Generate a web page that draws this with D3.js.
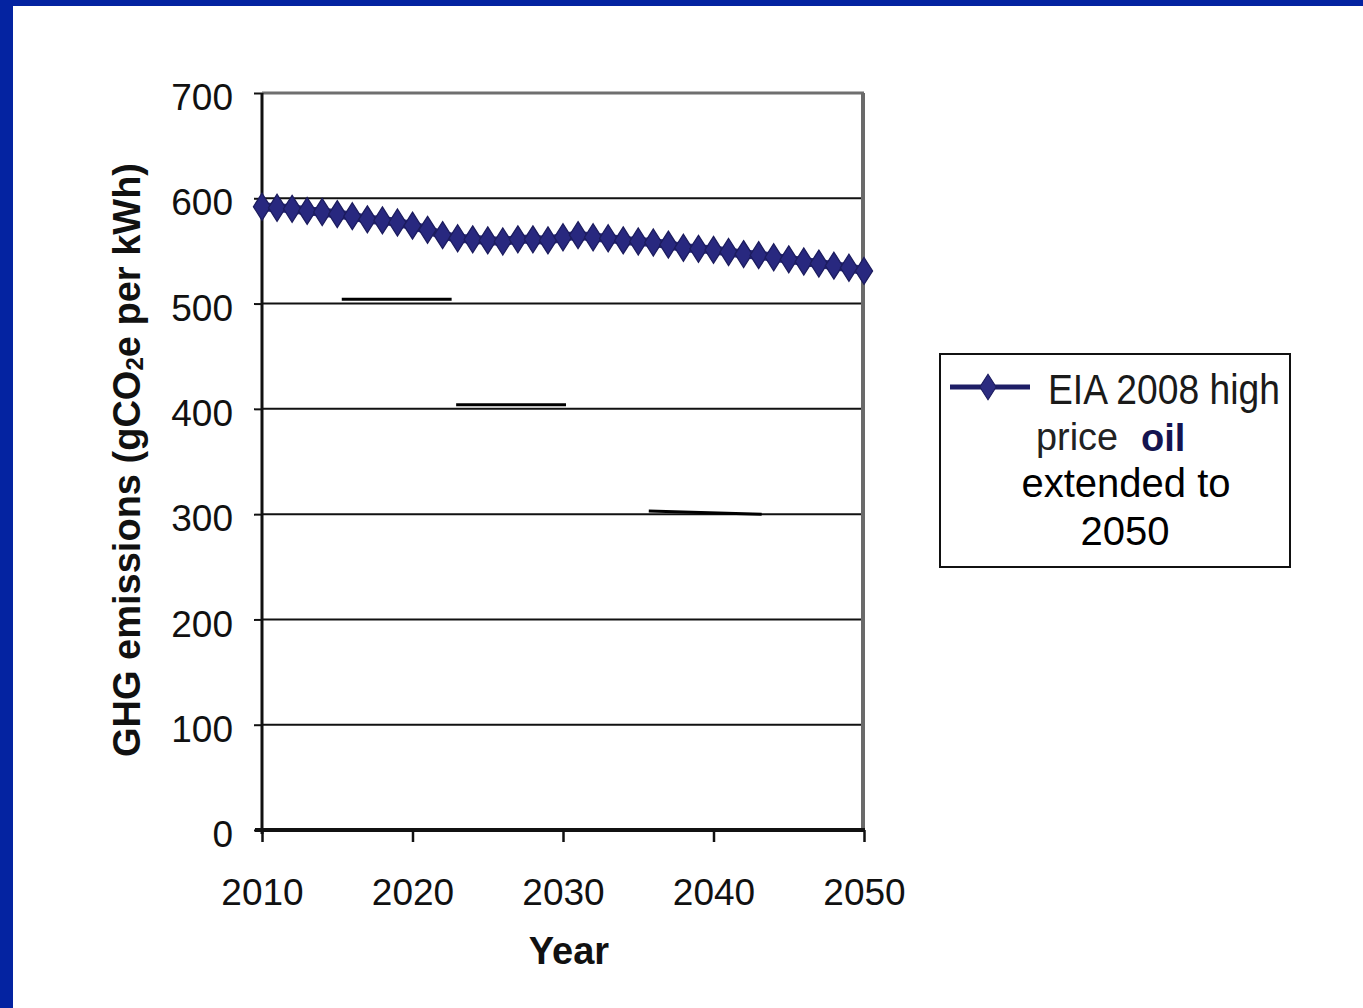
<!DOCTYPE html>
<html>
<head>
<meta charset="utf-8">
<script src="https://cdn.jsdelivr.net/npm/d3@7"></script>
<style>
  html, body { margin: 0; padding: 0; background: #ffffff; }
  svg { display: block; }
  text { font-family: "Liberation Sans", Arial, sans-serif; }
</style>
</head>
<body>
<script>
// Emissions intensity, EIA 2008 high-price-oil case extended to 2050
const years = d3.range(2010, 2051);
const emissions = [
  592, 591, 590, 588, 587, 585, 583, 580, 579, 577,
  574, 570, 565, 562, 561, 560, 559, 561, 561, 560,
  563, 565, 563, 562, 560, 559, 558, 556, 553, 552,
  551, 549, 547, 546, 544, 542, 540, 538, 536, 534,
  531
];
const yTicks = [0, 100, 200, 300, 400, 500, 600, 700];
const xTicks = [2010, 2020, 2030, 2040, 2050];
// short level marks left on the grid
const levelMarks = [
  { from: 2015.3, to: 2022.6, start: 504, end: 504 },
  { from: 2022.9, to: 2030.2, start: 404, end: 404 },
  { from: 2035.7, to: 2043.2, start: 303, end: 300 }
];
const seriesName = ["EIA 2008 high", "price", "oil", "extended to", "2050"];

const W = 1363, H = 1008;
const svg = d3.select("body").append("svg").attr("width", W).attr("height", H);

// slide frame
svg.append("rect").attr("x", 0).attr("y", 0).attr("width", W).attr("height", H).attr("fill", "#ffffff");
svg.append("rect").attr("x", 0).attr("y", 0).attr("width", 13).attr("height", H).attr("fill", "#0423a1");
svg.append("rect").attr("x", 0).attr("y", 0).attr("width", W).attr("height", 6).attr("fill", "#0423a1");

const plotL = 262, plotR = 864, plotT = 93, plotB = 830;
const x = d3.scaleLinear().domain([2010, 2050]).range([plotL, plotR]);
const y = d3.scaleLinear().domain([0, 700]).range([plotB, plotT]);

// horizontal gridlines
svg.append("g").selectAll("line").data(yTicks.filter(v => v > 0 && v < 700)).join("line")
  .attr("x1", plotL).attr("x2", plotR)
  .attr("y1", d => y(d)).attr("y2", d => y(d))
  .attr("stroke", "#111").attr("stroke-width", 2);

svg.append("g").selectAll("line").data(levelMarks).join("line")
  .attr("x1", d => x(d.from)).attr("x2", d => x(d.to))
  .attr("y1", d => y(d.start)).attr("y2", d => y(d.end))
  .attr("stroke", "#000").attr("stroke-width", 3);

// plot frame: grey top and right edges
svg.append("line").attr("x1", plotL).attr("x2", plotR).attr("y1", plotT).attr("y2", plotT)
  .attr("stroke", "#6f6f6f").attr("stroke-width", 3);
svg.append("line").attr("x1", plotR - 1).attr("x2", plotR - 1).attr("y1", plotT).attr("y2", plotB)
  .attr("stroke", "#6a6a6a").attr("stroke-width", 4);

// y axis
const yAxis = d3.axisLeft(y).tickValues(yTicks).tickSize(8).tickPadding(21).tickFormat(d3.format("d"));
const gy = svg.append("g").attr("transform", `translate(${plotL},0)`).call(yAxis);
gy.select(".domain").attr("stroke", "#111").attr("stroke-width", 3).attr("d", `M0,${plotT}V${plotB + 4}`);
gy.selectAll(".tick line").attr("stroke", "#111").attr("stroke-width", 2);
gy.selectAll(".tick text").attr("font-size", 37).attr("fill", "#111")
  .attr("font-family", "'Liberation Sans', Arial, sans-serif").attr("dy", "0.45em");

// x axis
const xAxis = d3.axisBottom(x).tickValues(xTicks).tickSize(12).tickPadding(36).tickFormat(d3.format("d"));
const gx = svg.append("g").attr("transform", `translate(0,${plotB})`).call(xAxis);
gx.select(".domain").attr("stroke", "#111").attr("stroke-width", 4).attr("d", `M${plotL - 7},0H${plotR + 1}`);
gx.selectAll(".tick line").attr("stroke", "#111").attr("stroke-width", 2.5);
gx.selectAll(".tick text").attr("font-size", 37).attr("fill", "#111")
  .attr("font-family", "'Liberation Sans', Arial, sans-serif").attr("dy", "0.72em");

// axis titles
svg.append("text").attr("x", 569).attr("y", 964).attr("text-anchor", "middle")
  .attr("font-size", 38).attr("font-weight", "bold").attr("fill", "#111").text("Year");

const yTitle = svg.append("text")
  .attr("transform", "translate(140,460) rotate(-90)")
  .attr("text-anchor", "middle").attr("font-size", 38).attr("font-weight", "bold").attr("fill", "#111");
yTitle.append("tspan").text("GHG emissions (gCO");
yTitle.append("tspan").attr("font-size", 24).attr("dy", 3).text("2");
yTitle.append("tspan").attr("dy", -3).text("e per kWh)");

// series
const navy = "#28287f";
const line = d3.line().x((d, i) => x(years[i])).y(d => y(d));
svg.append("path").datum(emissions).attr("d", line)
  .attr("fill", "none").attr("stroke", navy).attr("stroke-width", 9).attr("stroke-linejoin", "round");
const diamond = d3.symbol().type(d3.symbolDiamond).size(210);
svg.append("g").selectAll("path").data(emissions).join("path")
  .attr("transform", (d, i) => `translate(${x(years[i])},${y(d)}) scale(1.1,1)`)
  .attr("d", diamond).attr("fill", navy).attr("stroke", "#1c1c5e").attr("stroke-width", 1.2);

// legend
const lg = svg.append("g");
lg.append("rect").attr("x", 940).attr("y", 354).attr("width", 350).attr("height", 213)
  .attr("fill", "#fff").attr("stroke", "#111").attr("stroke-width", 2);
lg.append("line").attr("x1", 950).attr("x2", 1030).attr("y1", 387).attr("y2", 387)
  .attr("stroke", "#1e1e66").attr("stroke-width", 5);
lg.append("path").attr("transform", "translate(988,387) scale(1.1,1)")
  .attr("d", d3.symbol().type(d3.symbolDiamond).size(190)).attr("fill", "#2c2c80").attr("stroke", "#1c1c5e");
lg.append("text").attr("x", 1048).attr("y", 404).attr("font-size", 42).attr("fill", "#1a1a1a")
  .attr("textLength", 232).attr("lengthAdjust", "spacingAndGlyphs").text(seriesName[0]);
lg.append("text").attr("x", 1036).attr("y", 450).attr("font-size", 39).attr("fill", "#222")
  .attr("textLength", 82).attr("lengthAdjust", "spacingAndGlyphs").text(seriesName[1]);
lg.append("text").attr("x", 1141).attr("y", 451).attr("font-size", 38).attr("font-weight", "bold").attr("fill", "#141450")
  .text(seriesName[2]);
lg.append("text").attr("x", 1126).attr("y", 497).attr("font-size", 40).attr("fill", "#000")
  .attr("text-anchor", "middle").text(seriesName[3]);
lg.append("text").attr("x", 1125).attr("y", 545).attr("font-size", 40).attr("fill", "#000")
  .attr("text-anchor", "middle").text(seriesName[4]);
</script>
</body>
</html>
